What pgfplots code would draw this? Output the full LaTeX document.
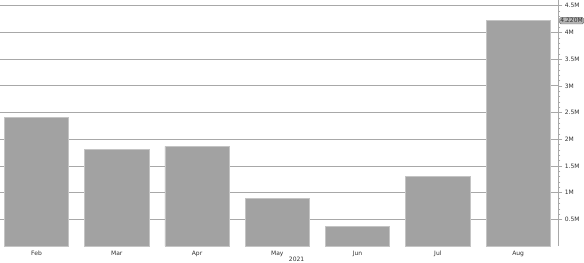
\documentclass[border=0pt]{standalone}
\usepackage{pgfplots}
\pgfplotsset{compat=1.18}
\usepackage{fontspec}
\setmainfont{DejaVu Sans}
\definecolor{barfill}{HTML}{A2A2A2}
\definecolor{baredge}{HTML}{C4C4C4}
\definecolor{gridc}{HTML}{A8A8A8}
\definecolor{txt}{HTML}{303030}

\begin{document}
\begin{tikzpicture}
\begin{axis}[
    scale only axis,
    width=556bp, height=245bp,
    ybar, bar width=64bp,
    xmin=-0.45, xmax=6.5,
    ymin=0, ymax=4600000,
    scaled y ticks=false,
    axis x line=none,
    axis y line*=right,
    y axis line style={gridc, line width=0.8pt},
    ytick={500000,1000000,1500000,2000000,2500000,3000000,3500000,4000000,4500000},
    yticklabels={0.5M,1M,1.5M,2M,2.5M,3M,3.5M,4M,4.5M},
    minor y tick num=4,
    tick style={gridc, line width=0.6pt},
    major tick length=4bp, minor tick length=2bp,
    ytick pos=right,
    tick align=outside,
    ymajorgrids,
    major grid style={gridc, line width=0.8pt},
    yticklabel style={font=\fontsize{6}{7}\selectfont, text=txt, xshift=-1bp},
    clip=false,
]
\addplot[fill=barfill, draw=baredge, line width=0.6pt] coordinates {
    (0,2410000) (1,1810000) (2,1870000) (3,890000) (4,370000) (5,1310000) (6,4220000)
};
\node[font=\fontsize{6}{7}\selectfont, text=txt, anchor=north] at (axis cs:0,0) [yshift=-1.5bp] {Feb};
\node[font=\fontsize{6}{7}\selectfont, text=txt, anchor=north] at (axis cs:1,0) [yshift=-1.5bp] {Mar};
\node[font=\fontsize{6}{7}\selectfont, text=txt, anchor=north] at (axis cs:2,0) [yshift=-1.5bp] {Apr};
\node[font=\fontsize{6}{7}\selectfont, text=txt, anchor=north] at (axis cs:3,0) [yshift=-1.5bp] {May};
\node[font=\fontsize{6}{7}\selectfont, text=txt, anchor=north] at (axis cs:4,0) [yshift=-1.5bp] {Jun};
\node[font=\fontsize{6}{7}\selectfont, text=txt, anchor=north] at (axis cs:5,0) [yshift=-1.5bp] {Jul};
\node[font=\fontsize{6}{7}\selectfont, text=txt, anchor=north] at (axis cs:6,0) [yshift=-1.5bp] {Aug};
\node[font=\fontsize{6}{7}\selectfont, text=txt, anchor=north, inner ysep=1bp] at (axis cs:3.24,0) [yshift=-10bp] {2021};
\node[font=\fontsize{6}{7}\selectfont, text=txt, anchor=west, fill=barfill!80, draw=txt!70,
      rounded corners=1.5bp, inner sep=1bp, line width=0.4pt] at (axis cs:6.5,4220000) [xshift=1bp] {4.220M};
\end{axis}
\end{tikzpicture}
\end{document}
